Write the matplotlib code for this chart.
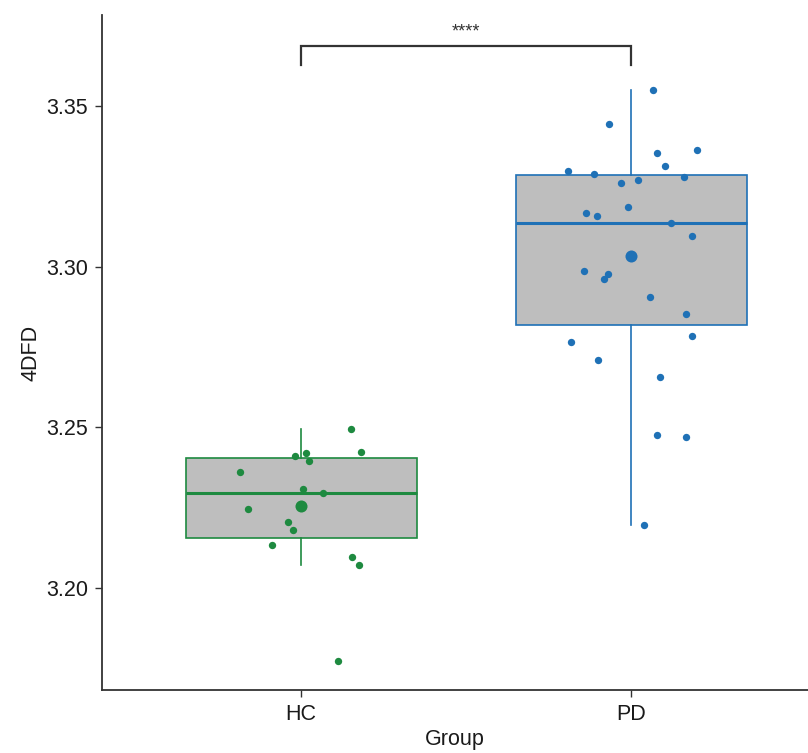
import numpy as np
import matplotlib
matplotlib.use("Agg")
import matplotlib.pyplot as plt

plt.rcParams['font.family'] = ['Liberation Sans', 'DejaVu Sans']

# ---- data ----
groups = ["HC", "PD"]
hc_values = [3.2494, 3.2423, 3.2410, 3.2419, 3.2395, 3.2361, 3.2307, 3.2294,
             3.2246, 3.2205, 3.2178, 3.2133, 3.2094, 3.2071, 3.1772]
hc_jitter = [0.151, 0.181, -0.019, 0.016, 0.025, -0.184, 0.007, 0.068,
             -0.162, -0.040, -0.023, -0.088, 0.155, 0.177, 0.112]
pd_values = [3.3552, 3.3445, 3.3355, 3.3365, 3.3315, 3.3298, 3.3288, 3.3281,
             3.3262, 3.3270, 3.3186, 3.3168, 3.3159, 3.3136, 3.3097, 3.2986,
             3.2977, 3.2963, 3.2905, 3.2852, 3.2785, 3.2766, 3.2708, 3.2655,
             3.2476, 3.2468, 3.2196]
pd_jitter = [0.066, -0.066, 0.078, 0.199, 0.103, -0.191, -0.112, 0.160,
             -0.030, 0.022, -0.009, -0.138, -0.104, 0.121, 0.186, -0.142,
             -0.070, -0.082, 0.057, 0.166, 0.186, -0.183, -0.101, 0.087,
             0.078, 0.166, 0.039]
sig_label = "****"
y_ticks = [3.20, 3.25, 3.30, 3.35]

colors = ["#1E8A40", "#1F71B6"]
values = [hc_values, pd_values]
jitters = [hc_jitter, pd_jitter]

fig = plt.figure(figsize=(8.08, 7.53), dpi=100)
ax = fig.add_axes([102/808, 63/753, 706/808, 675/753])

positions = [1, 2]
for pos, vals, jit, col in zip(positions, values, jitters, colors):
    bp = ax.boxplot([vals], positions=[pos], widths=0.7, patch_artist=True,
                    showfliers=False, whis=1.5, showcaps=False)
    for b in bp['boxes']:
        b.set_facecolor('#BEBEBE')
        b.set_edgecolor(col)
        b.set_linewidth(1.2)
    for w in bp['whiskers']:
        w.set_color(col)
        w.set_linewidth(1.2)
    for m in bp['medians']:
        m.set_color(col)
        m.set_linewidth(2.2)
    xs = pos + np.array(jit)
    ax.scatter(xs, vals, s=28, color=col, zorder=3, linewidths=0)
    ax.scatter([pos], [np.mean(vals)], s=75, color=col, zorder=4,
               marker='o', linewidths=0)

# significance bracket
y_br = 3.3688
y_leg = 3.3629
ax.plot([1, 1, 2, 2], [y_leg, y_br, y_br, y_leg], color='#333333',
        lw=1.6, clip_on=False, solid_joinstyle='miter')
ax.text(1.5, y_br + 0.0018, sig_label, ha='center', va='bottom',
        fontsize=13, color='#333333')

ax.set_xlim(0.397, 2.536)
ax.set_ylim(3.16805, 3.37846)
ax.set_xticks(positions)
ax.set_xticklabels(groups)
ax.set_yticks(y_ticks)
ax.set_yticklabels([f"{t:.2f}" for t in y_ticks])
ax.tick_params(axis='both', labelsize=15.5, length=5, width=1.0,
               color='#333333', labelcolor='#1a1a1a', pad=5)
ax.set_xlabel("Group", fontsize=15.5, color='#1a1a1a', labelpad=3)
ax.set_ylabel("4DFD", fontsize=15.5, color='#1a1a1a', labelpad=3)
for s in ['top', 'right']:
    ax.spines[s].set_visible(False)
for s in ['left', 'bottom']:
    ax.spines[s].set_color('#333333')
    ax.spines[s].set_linewidth(1.3)

fig.savefig("out.png", dpi=100)
